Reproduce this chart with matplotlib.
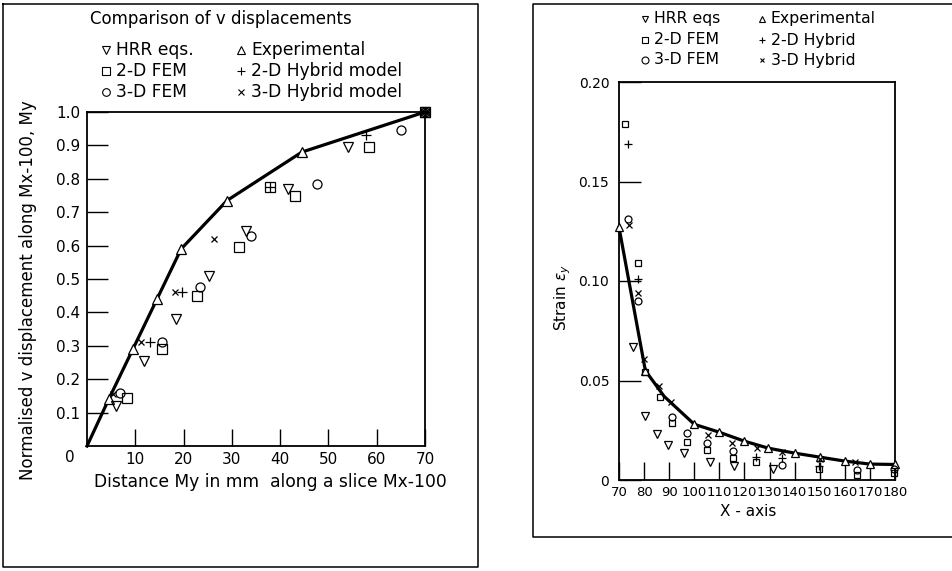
import matplotlib
matplotlib.use('Agg')
import matplotlib.pyplot as plt
from matplotlib.lines import Line2D

plt.rcParams['font.family'] = ['DejaVu Sans']

W, H = 953, 571

# ============ DATA: LEFT PANEL (v displacement) ============
dist_exp = [0, 4.5, 9.5, 14.5, 19.5, 29, 44.5, 70]
v_exp = [0, 0.14, 0.29, 0.44, 0.59, 0.735, 0.88, 1.0]

dist_hrr = [6.1, 11.8, 18.4, 25.2, 32.9, 41.7, 54, 70]
v_hrr = [0.12, 0.255, 0.38, 0.51, 0.645, 0.77, 0.895, 1.0]

dist_fem2 = [8.2, 15.6, 22.7, 31.4, 37.9, 43.1, 58.4, 70]
v_fem2 = [0.145, 0.29, 0.45, 0.597, 0.775, 0.75, 0.895, 1.0]

dist_hyb2 = [13.0, 19.6, 37.9, 57.8, 70]
v_hyb2 = [0.31, 0.46, 0.775, 0.93, 1.0]

dist_fem3 = [6.8, 15.5, 23.4, 33.9, 47.6, 65, 70]
v_fem3 = [0.158, 0.31, 0.475, 0.63, 0.785, 0.945, 1.0]

dist_hyb3 = [5.3, 11.1, 18.3, 26.2, 70]
v_hyb3 = [0.156, 0.31, 0.46, 0.62, 1.0]

left_xticks = [10, 20, 30, 40, 50, 60, 70]
left_yticks = [0.1, 0.2, 0.3, 0.4, 0.5, 0.6, 0.7, 0.8, 0.9, 1.0]

# ============ DATA: RIGHT PANEL (strain) ============
x_exp = [70, 80.5, 88, 100, 110, 120, 129.5, 140, 150, 160, 170, 180]
e_exp = [0.127, 0.055, 0.042, 0.028, 0.024, 0.0195, 0.016, 0.0135, 0.0115, 0.0095, 0.008, 0.0078]

x_hrr = [75.6, 80.5, 85, 89.6, 96, 106.3, 115.8, 131.4]
e_hrr = [0.067, 0.032, 0.023, 0.0175, 0.0135, 0.009, 0.007, 0.0055]

x_fem2 = [72.5, 77.5, 80.5, 86.3, 91, 97, 105, 115.4, 124.5, 149.7, 164.8, 179.5]
e_fem2 = [0.179, 0.109, 0.0545, 0.0415, 0.0285, 0.019, 0.015, 0.011, 0.009, 0.0055, 0.0025, 0.0035]

x_hyb2 = [73.6, 77.6, 124.5, 135, 149.7]
e_hyb2 = [0.169, 0.101, 0.0115, 0.011, 0.007]

x_fem3 = [73.6, 77.5, 91, 97, 105, 115.4, 135, 164.8, 179.5]
e_fem3 = [0.131, 0.090, 0.0315, 0.0235, 0.0185, 0.0145, 0.0075, 0.005, 0.0055]

x_hyb3 = [73.8, 77.5, 80, 86, 90.7, 105.5, 115, 125, 135, 150, 164]
e_hyb3 = [0.128, 0.094, 0.061, 0.047, 0.039, 0.0225, 0.0185, 0.016, 0.014, 0.0105, 0.009]

right_xticks = [70, 80, 90, 100, 110, 120, 130, 140, 150, 160, 170, 180]
right_yticks = [0, 0.05, 0.10, 0.15, 0.20]
right_ylabels = ['0', '0.05', '0.10', '0.15', '0.20']


# ============ HELPERS ============

def fx(x):
    return x / W


def fy(y):
    return 1 - y / H


def fig_line(xs, ys, lw=1.1):
    fig.add_artist(Line2D([fx(x) for x in xs], [fy(y) for y in ys],
                          transform=fig.transFigure, color='black', lw=lw))


def fig_marker(x, y, marker, ms):
    fig.add_artist(Line2D([fx(x)], [fy(y)], transform=fig.transFigure, marker=marker,
                          ms=ms, mfc='white', mec='black', mew=0.8, ls='none'))


def scatter(ax, x, y, marker, ms):
    ax.plot(x, y, ls='none', marker=marker, ms=ms, mfc='none', mec='black',
            mew=0.9, color='black', clip_on=False, zorder=4)


fig = plt.figure(figsize=(W / 100, H / 100), dpi=100)

# outer boxes
fig_line([3, 478, 478, 3, 3], [4, 4, 567, 567, 4])
fig_line([953, 533, 533, 953], [4, 4, 537, 537])

# ============ LEFT PANEL ============
ax1 = fig.add_axes([fx(87), fy(446), (425 - 87) / W, (446 - 112) / H])
ax1.plot(dist_exp, v_exp, color='black', lw=2.3, marker='^', ms=7.5, mfc='white',
         mec='black', mew=0.9, markevery=list(range(1, len(dist_exp))), clip_on=False, zorder=3)
scatter(ax1, dist_hrr, v_hrr, 'v', 7.5)
scatter(ax1, dist_fem2, v_fem2, 's', 6.5)
scatter(ax1, dist_hyb2, v_hyb2, '+', 7)
scatter(ax1, dist_fem3, v_fem3, 'o', 6.5)
scatter(ax1, dist_hyb3, v_hyb3, 'x', 5)
ax1.set_xlim(0, 70)
ax1.set_ylim(0, 1.0)
ax1.set_xticks(left_xticks)
ax1.set_yticks(left_yticks)
ax1.set_xticklabels([str(t) for t in left_xticks])
ax1.set_yticklabels(['%.1f' % t for t in left_yticks])
ax1.tick_params(axis='x', direction='in', length=12, width=1, labelsize=11, pad=4)
ax1.tick_params(axis='y', direction='in', length=15, width=1, labelsize=11, pad=5)
for s in ax1.spines.values():
    s.set_linewidth(1.3)
fig.text(fx(70), fy(457), '0', fontsize=11, ha='center', va='center')

fig.text(fx(90), fy(19), 'Comparison of v displacements', fontsize=12, ha='left', va='center')
left_legend = [
    (106, 50, 'v', 'HRR eqs.'), (241, 50, '^', 'Experimental'),
    (106, 71, 's', '2-D FEM'), (241, 71, '+', '2-D Hybrid model'),
    (106, 92, 'o', '3-D FEM'), (241, 92, 'x', '3-D Hybrid model'),
]
for x, y, m, label in left_legend:
    fig_marker(x, y, m, 5.5 if m not in ('x',) else 4)
    fig.text(fx(x + 10), fy(y), label, fontsize=12.3, ha='left', va='center')

fig.text(fx(28), fy(290), 'Normalised v displacement along Mx-100, My', fontsize=12,
         rotation=90, ha='center', va='center')
fig.text(fx(270), fy(482), 'Distance My in mm  along a slice Mx-100', fontsize=12.3,
         ha='center', va='center')

# ============ RIGHT PANEL ============
ax2 = fig.add_axes([fx(619), fy(480), (895 - 619) / W, (480 - 82) / H])
ax2.plot(x_exp, e_exp, color='black', lw=2.3, marker='^', ms=6, mfc='white',
         mec='black', mew=0.9, markevery=[0, 1, 3, 4, 5, 6, 7, 8, 9, 10, 11], clip_on=False, zorder=3)
scatter(ax2, x_hrr, e_hrr, 'v', 6)
scatter(ax2, x_fem2, e_fem2, 's', 5)
scatter(ax2, x_hyb2, e_hyb2, '+', 5.5)
scatter(ax2, x_fem3, e_fem3, 'o', 5)
scatter(ax2, x_hyb3, e_hyb3, 'x', 4)
ax2.set_xlim(70, 180)
ax2.set_ylim(0, 0.20)
ax2.set_xticks(right_xticks)
ax2.set_xticklabels([str(t) for t in right_xticks])
ax2.set_yticks(right_yticks)
ax2.set_yticklabels(right_ylabels)
ax2.tick_params(axis='x', direction='in', length=13, width=1, labelsize=9.5, pad=4)
ax2.tick_params(axis='y', direction='in', length=16, width=1, labelsize=10, pad=7)
for s in ax2.spines.values():
    s.set_linewidth(1.3)

right_legend = [
    (645, 19, 'v', 'HRR eqs'), (762, 19, '^', 'Experimental'),
    (645, 40, 's', '2-D FEM'), (762, 40, '+', '2-D Hybrid'),
    (645, 60, 'o', '3-D FEM'), (762, 60, 'x', '3-D Hybrid'),
]
for x, y, m, label in right_legend:
    fig_marker(x, y, m, 5 if m not in ('x',) else 3.5)
    fig.text(fx(x + 9), fy(y), label, fontsize=11.3, ha='left', va='center')

fig.text(fx(563), fy(298), r'Strain $\epsilon_y$', fontsize=11, rotation=90,
         ha='center', va='center')
fig.text(fx(748), fy(512), 'X - axis', fontsize=11, ha='center', va='center')

fig.savefig('out.png', dpi=100)
